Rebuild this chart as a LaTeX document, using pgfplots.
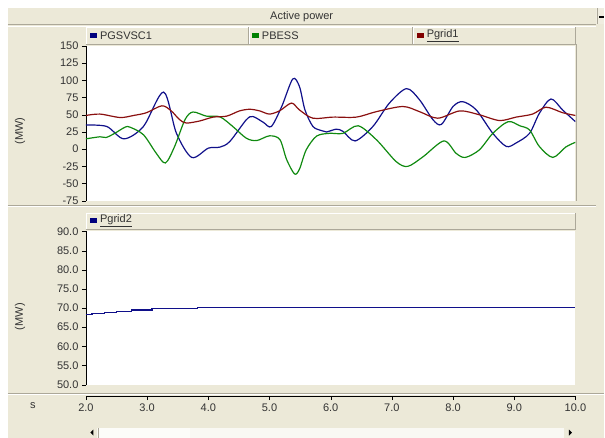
\documentclass[border=0pt]{standalone}
\usepackage{pgfplots}
\pgfplotsset{compat=1.18}
\usepackage{fontspec}
\setmainfont{Liberation Sans}
\definecolor{bg}{HTML}{ECE9D8}
\definecolor{sep}{HTML}{ACA899}
\definecolor{cblue}{HTML}{10108A}
\definecolor{cgreen}{HTML}{108A10}
\definecolor{cred}{HTML}{8A1010}
\definecolor{txt}{HTML}{333333}
\begin{document}
\begin{tikzpicture}[x=1pt,y=1pt,font=\fontsize{11}{13}\selectfont]
% background
\fill[white] (0,0) rectangle (605,438);
\fill[bg] (8,0) rectangle (605,430);
% title bar
\draw[sep,line width=1pt] (8,413) -- (597,413);
\draw[white,line width=0.8pt] (8,412) -- (597,412);
\node[txt] at (302,421) {Active power};
\fill[bg!80!white] (597,414) rectangle (605,430);
\draw[sep] (597.5,414) -- (597.5,430);
\draw[black,line width=1.2pt] (600,421) -- (605,421);
% top legend bar
\fill[bg] (86,394) rectangle (576,411);
\draw[white] (86,393.5) -- (86,411) -- (576,411);
\draw[sep] (86,393.5) -- (576,393.5) -- (576,411);
\draw[sep] (248,394) -- (248,411);
\draw[white] (249,394) -- (249,411);
\draw[sep] (413,394) -- (413,411);
\draw[white] (414,394) -- (414,411);
\fill[black!10!blue!55!black] (90,400) rectangle (97,405);
\node[txt,anchor=west,inner sep=0] at (100,402.5) {PGSVSC1};
\fill[green!50!black] (252,400) rectangle (259,405);
\node[txt,anchor=west,inner sep=0] at (262,402.5) {PBESS};
\fill[red!50!black] (417,400) rectangle (424,405);
\node[txt,anchor=west,inner sep=0] at (427,402.5) {\underline{Pgrid1}};
% right panel border
\draw[sep] (576.5,237) -- (576.5,394);
% separator between plots
\draw[sep,line width=1pt] (8,232) -- (597,232);
\draw[white,line width=0.8pt] (8,231) -- (597,231);
% bottom legend bar
\fill[bg] (86,209) rectangle (576,225);
\draw[white] (86,208.5) -- (86,225) -- (576,225);
\draw[sep] (86,208.5) -- (576,208.5) -- (576,225);
\fill[black!10!blue!55!black] (90,214.5) rectangle (97,219.5);
\node[txt,anchor=west,inner sep=0] at (100,217) {\underline{Pgrid2}};
% separator above time axis
\draw[sep,line width=1pt] (8,44) -- (605,44);
\draw[white,line width=0.8pt] (8,43) -- (605,43);
% y labels
\node[txt,rotate=90] at (20,307) {(MW)};
\node[txt,rotate=90] at (20,121) {(MW)};
\node[txt] at (33,32) {s};
% scrollbar
\fill[white!70!bg] (86,0) rectangle (576,10);
\fill[white!85!bg] (98,0) rectangle (190,10);
\draw[sep] (98,0) -- (98,10);
\fill[bg] (86,0) rectangle (97,10);
\fill[black] (93.5,8) -- (93.5,2) -- (90.5,5) -- cycle;
\fill[bg] (565,0) rectangle (576,10);
\fill[black] (569.5,8) -- (569.5,2) -- (572.5,5) -- cycle;

% ---------- top axis ----------
\begin{axis}[at={(86pt,237pt)}, anchor=south west, scale only axis,
  width=490pt, height=155pt,
  xmin=2, xmax=10, ymin=-75, ymax=150,
  axis x line=none, axis y line*=left,
  axis line style={black,-}, 
  ytick={-75,-50,...,150},
  tick align=outside, major tick length=4pt, tick style={black},
  /pgf/number format/assume math mode=true,
  yticklabel style={font=\fontsize{11}{13}\selectfont, text=txt},
  axis background/.style={fill=white},
  clip=true]
\addplot[cblue, line width=1.2pt, smooth, tension=0.5] coordinates {
(2.0,35) (2.34,33) (2.62,15) (2.94,33) (3.27,83) (3.48,23) (3.73,-12) (4.0,1.5) (4.19,3) (4.35,11) (4.62,42.6) (4.73,47.4) (4.9,39) (5.03,33) (5.2,62) (5.38,102) (5.49,91) (5.58,57) (5.71,33) (5.85,27) (5.93,25) (6.09,29) (6.2,26) (6.4,12) (6.69,33) (6.96,67) (7.24,88) (7.45,72) (7.67,43) (7.81,36) (8.0,62) (8.16,69) (8.38,57) (8.65,23) (8.87,4) (9.03,9) (9.25,23) (9.41,52) (9.6,73) (9.79,57) (10,40)
};
\addplot[cgreen, line width=1.2pt, smooth, tension=0.5] coordinates {
(2.0,15) (2.23,18) (2.33,17) (2.47,23) (2.64,32) (2.72,32) (2.94,21) (3.15,-6) (3.3,-20) (3.45,4) (3.62,43) (3.75,54) (3.97,48) (4.19,47) (4.4,33) (4.62,16) (4.79,12.5) (5.0,19.4) (5.17,14) (5.28,-15) (5.41,-36) (5.49,-29) (5.6,-1) (5.77,19) (5.98,23) (6.2,23) (6.45,34) (6.75,13.5) (7.07,-18) (7.26,-25) (7.51,-11) (7.85,12) (8.05,-6) (8.2,-12) (8.43,-1) (8.65,23) (8.9,40) (9.09,34) (9.25,28) (9.41,4) (9.63,-12) (9.84,3) (10,10)
};
\addplot[cred, line width=1.2pt, smooth, tension=0.5] coordinates {
(2.0,49) (2.23,51) (2.56,46) (2.78,49) (2.99,53) (3.24,63) (3.39,56) (3.53,43) (3.64,38) (3.86,41) (4.08,46.6) (4.3,48) (4.51,55.6) (4.68,58) (4.84,55.6) (5.0,51) (5.17,56) (5.36,67) (5.49,57) (5.71,45) (6.04,46.6) (6.42,46.6) (6.75,54.6) (7.18,62) (7.45,54.6) (7.75,45) (8.11,55.6) (8.43,50) (8.76,41.6) (9.03,46.6) (9.3,51) (9.52,61) (9.79,53) (10,49)
};
\end{axis}

% ---------- bottom axis ----------
\begin{axis}[at={(86pt,53pt)}, anchor=south west, scale only axis,
  width=490pt, height=153.3pt,
  xmin=2, xmax=10, ymin=50, ymax=90,
  axis x line=none, axis y line*=left,
  axis line style={black,-},
  ytick={50,55,...,90},
  tick align=outside, major tick length=4pt, tick style={black},
  /pgf/number format/assume math mode=true,
  yticklabel style={font=\fontsize{11}{13}\selectfont, text=txt, /pgf/number format/.cd, fixed, fixed zerofill, precision=1},
  axis background/.style={fill=white},
  clip=true]
\addplot[cblue, line width=1.2pt, const plot] coordinates {
(2.0,68.4) (2.1,68.6) (2.3,68.9) (2.5,69.2) (2.75,69.5) (3.08,69.8) (3.82,70.2) (10,70.2)
};
\end{axis}

% ---------- time axis ----------
\begin{axis}[at={(86pt,41.5pt)}, anchor=south west, scale only axis,
  width=490pt, height=1pt,
  xmin=2, xmax=10, ymin=0, ymax=1,
  axis y line=none, axis x line*=bottom,
  axis line style={black,-},
  xtick={2,3,...,10},
  tick align=outside, major tick length=4pt, tick style={black},
  /pgf/number format/assume math mode=true,
  xticklabel style={font=\fontsize{11}{13}\selectfont, text=txt, /pgf/number format/.cd, fixed, fixed zerofill, precision=1}]
\addplot[draw=none] coordinates {(2,0) (10,0)};
\end{axis}
\end{tikzpicture}
\end{document}
